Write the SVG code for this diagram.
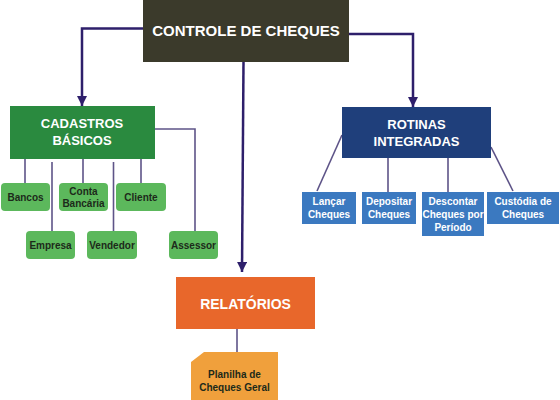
<svg xmlns="http://www.w3.org/2000/svg" width="560" height="400" viewBox="0 0 560 400">
<defs>
<marker id="arr" viewBox="0 0 10 10" refX="10" refY="5" markerWidth="10" markerHeight="10" markerUnits="userSpaceOnUse" orient="auto">
<path d="M0,0 L10,5 L0,10 Z" fill="#2e1f6b"/>
</marker>
<style>
text{font-family:"Liberation Sans",Arial,sans-serif;font-weight:bold;text-anchor:middle}
.main{stroke:#2e1f6b;stroke-width:2.5;fill:none}
.sub{stroke:#5e5488;stroke-width:1.6;fill:none}
.gs{fill:#5cb85c}
.bs{fill:#3b79c0}
.gt{font-size:10px;fill:#1c2a1a}
.bt{font-size:10px;fill:#ffffff}
.ht{font-size:13px;fill:#ffffff}
</style>
</defs>
<rect width="560" height="400" fill="#ffffff"/>
<g id="connectors">
<path class="main" d="M143,28.5 H82 V106" marker-end="url(#arr)"/>
<path class="main" d="M349,34 H413 V107" marker-end="url(#arr)"/>
<path class="main" d="M243.5,62 L242,272" marker-end="url(#arr)"/>
<path class="sub" d="M25,159 V183"/>
<path class="sub" d="M52,162 V231"/>
<path class="sub" d="M83,159 V183"/>
<path class="sub" d="M113.5,162 V231"/>
<path class="sub" d="M141,159 V183"/>
<path class="sub" d="M155,129 H195 V231"/>
<path class="sub" d="M342,135 L317,191"/>
<path class="sub" d="M388,158 V192"/>
<path class="sub" d="M448,158 V192"/>
<path class="sub" d="M491,147 L513,191"/>
<path class="sub" d="M237,329 V352"/>
</g>
<g id="controle">
<rect x="143" y="0" width="206" height="62" fill="#3b3a2b"/>
<text x="246" y="36" font-size="15" fill="#ffffff">CONTROLE DE CHEQUES</text>
</g>
<g id="cadastros">
<rect x="10" y="106" width="145" height="53" fill="#2a8a3f"/>
<text class="ht" x="82" y="128">CADASTROS</text>
<text class="ht" x="82" y="145">BÁSICOS</text>
</g>
<g id="bancos"><rect class="gs" x="1" y="183" width="49" height="28" rx="4"/><text class="gt" x="25.5" y="201">Bancos</text></g>
<g id="conta"><rect class="gs" x="59" y="183" width="49" height="28" rx="4"/><text class="gt" x="83.5" y="195">Conta</text><text class="gt" x="83.5" y="207">Bancária</text></g>
<g id="cliente"><rect class="gs" x="116" y="183" width="50" height="28" rx="4"/><text class="gt" x="141" y="201">Cliente</text></g>
<g id="empresa"><rect class="gs" x="26" y="231" width="49" height="28" rx="4"/><text class="gt" x="50.5" y="249">Empresa</text></g>
<g id="vendedor"><rect class="gs" x="87" y="231" width="50" height="28" rx="4"/><text class="gt" x="112" y="249">Vendedor</text></g>
<g id="assessor"><rect class="gs" x="169" y="231" width="49" height="28" rx="4"/><text class="gt" x="193.5" y="249">Assessor</text></g>
<g id="rotinas">
<rect x="342" y="107" width="149" height="51" fill="#1f3f7b"/>
<text class="ht" x="416.5" y="129">ROTINAS</text>
<text class="ht" x="416.5" y="146">INTEGRADAS</text>
</g>
<g id="lancar"><rect class="bs" x="302" y="192" width="54" height="32"/><text class="bt" x="329" y="205">Lançar</text><text class="bt" x="329" y="218">Cheques</text></g>
<g id="depositar"><rect class="bs" x="362" y="192" width="54" height="32"/><text class="bt" x="389" y="205">Depositar</text><text class="bt" x="389" y="218">Cheques</text></g>
<g id="descontar"><rect class="bs" x="422" y="192" width="62" height="44"/><text class="bt" x="453" y="205">Descontar</text><text class="bt" x="453" y="218">Cheques por</text><text class="bt" x="453" y="231">Período</text></g>
<g id="custodia"><rect class="bs" x="487" y="192" width="72" height="32"/><text class="bt" x="523" y="205">Custódia de</text><text class="bt" x="523" y="218">Cheques</text></g>
<g id="relatorios">
<rect x="176" y="277" width="139" height="52" fill="#e8672b"/>
<text x="245.5" y="309" font-size="14" fill="#ffffff">RELATÓRIOS</text>
</g>
<g id="planilha">
<path d="M204,352 H278 V400 H191 V362 Z" fill="#f0a03c"/>
<text class="gt" x="234.5" y="378">Planilha de</text>
<text class="gt" x="234.5" y="391">Cheques Geral</text>
</g>
</svg>
